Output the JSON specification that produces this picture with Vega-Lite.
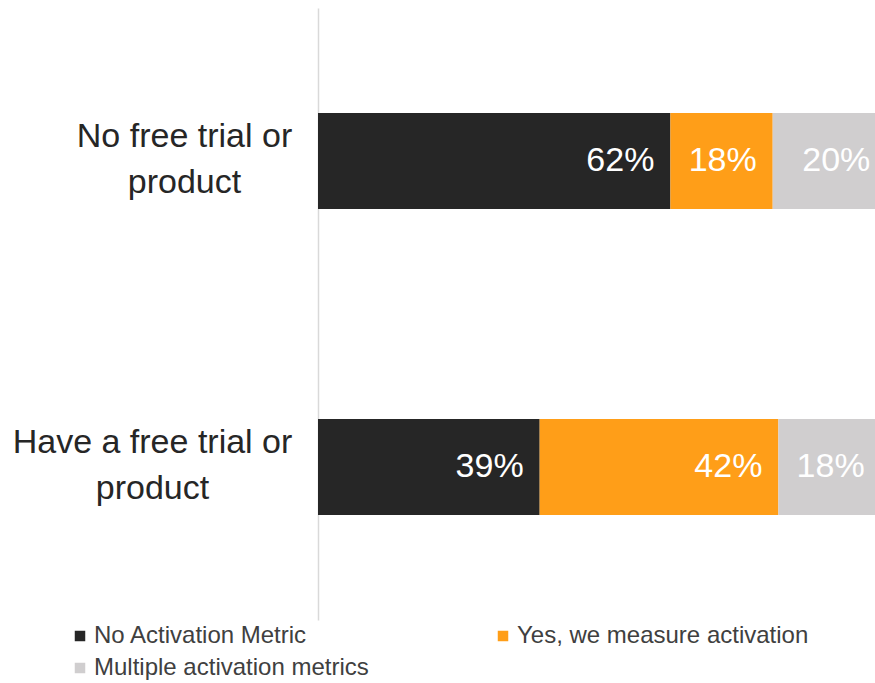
{
  "$schema": "https://vega.github.io/schema/vega-lite/v6.json",
  "width": 557,
  "height": 612,
  "autosize": {"type": "none"},
  "padding": {"left": 318, "top": 8, "right": 0, "bottom": 63},
  "background": "white",
  "config": {"view": {"stroke": null}, "font": "Liberation Sans"},
  "data": {
    "values": [
      {"group": "No free trial or product", "metric": "No Activation Metric", "rank": 1, "value": 0.62},
      {"group": "No free trial or product", "metric": "Yes, we measure activation", "rank": 2, "value": 0.18},
      {"group": "No free trial or product", "metric": "Multiple activation metrics", "rank": 3, "value": 0.20},
      {"group": "Have a free trial or product", "metric": "No Activation Metric", "rank": 1, "value": 0.39},
      {"group": "Have a free trial or product", "metric": "Yes, we measure activation", "rank": 2, "value": 0.42},
      {"group": "Have a free trial or product", "metric": "Multiple activation metrics", "rank": 3, "value": 0.18}
    ]
  },
  "encoding": {
    "y": {
      "field": "group",
      "type": "nominal",
      "sort": ["No free trial or product", "Have a free trial or product"],
      "scale": {"paddingInner": 0, "paddingOuter": 0},
      "axis": {
        "title": null,
        "domain": true,
        "domainColor": "#D9D9D9",
        "domainWidth": 1.5,
        "ticks": false,
        "tickSize": 0,
        "labelFont": "Liberation Sans",
        "labelFontSize": 34,
        "labelColor": "#262626",
        "labelAlign": "center",
        "labelBaseline": "middle",
        "labelPadding": {"condition": {"test": "datum.value == 'Have a free trial or product'", "value": 166}, "value": 134},
        "labelOffset": -24,
        "labelLineHeight": 46,
        "labelLimit": 400,
        "labelExpr": "datum.value == 'No free trial or product' ? ['No free trial or', 'product'] : ['Have a free trial or', 'product']"
      }
    },
    "x": {
      "field": "value",
      "type": "quantitative",
      "stack": "zero",
      "scale": {"domain": [0, 0.98]},
      "axis": null
    },
    "order": {"field": "rank", "type": "quantitative"}
  },
  "layer": [
    {
      "mark": {"type": "bar", "size": 96, "clip": true},
      "encoding": {
        "color": {
          "field": "metric",
          "type": "nominal",
          "scale": {
            "domain": ["No Activation Metric", "Yes, we measure activation", "Multiple activation metrics"],
            "range": ["#262626", "#FF9E18", "#D0CECF"]
          },
          "legend": {
            "title": null,
            "orient": "none",
            "legendX": -250,
            "legendY": 616,
            "columns": 2,
            "values": ["No Activation Metric", "Multiple activation metrics", "Yes, we measure activation"],
            "symbolType": "square",
            "symbolSize": 110,
            "symbolStrokeWidth": 0,
            "labelFont": "Liberation Sans",
            "labelFontSize": 24,
            "labelColor": "#404040",
            "labelOffset": 2,
            "columnPadding": 122,
            "rowPadding": 8,
            "labelLimit": 400
          }
        }
      }
    },
    {
      "mark": {"type": "text", "align": "right", "baseline": "middle", "dx": -16, "fontSize": 34, "color": "white", "font": "Liberation Sans"},
      "encoding": {
        "text": {"field": "value", "type": "quantitative", "format": ".0%"}
      }
    }
  ]
}
